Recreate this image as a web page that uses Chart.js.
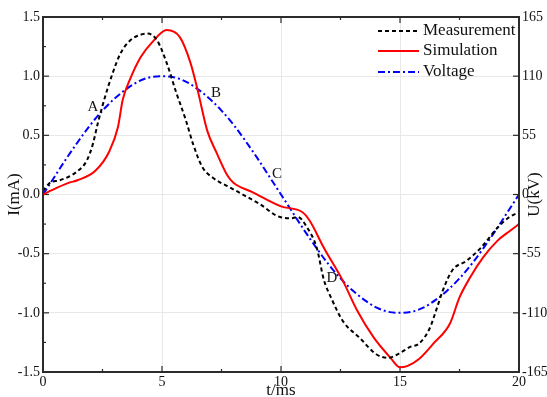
<!DOCTYPE html>
<html>
<head>
<meta charset="utf-8">
<script src="https://cdn.jsdelivr.net/npm/chart.js@4.4.1/dist/chart.umd.min.js"></script>
<style>
  html, body { margin: 0; padding: 0; background: #fff; }
  canvas { display: block; }
</style>
</head>
<body>
<canvas id="myChart" width="547" height="397"></canvas>
<script>
// Measurement current (mA) vs time (ms)
const tMeas = [0, 0.3, 0.7, 1.4, 1.85, 2.1, 2.3, 2.6, 2.9, 3.25, 3.65, 4.1, 4.4, 4.8, 5.2, 5.6, 6.0, 6.3, 6.7, 7.15, 7.85, 8.3, 9.1, 9.95, 10.45, 10.7, 11.1, 11.5, 11.8, 12.1, 12.6, 13.3, 14.0, 14.5, 15.0, 15.4, 15.8, 16.25, 16.55, 16.8, 17.2, 17.8, 18.4, 19.1, 19.6, 20];
const iMeas = [0.03, 0.1, 0.12, 0.19, 0.29, 0.43, 0.6, 0.82, 1.01, 1.19, 1.3, 1.35, 1.36, 1.3, 1.11, 0.86, 0.63, 0.43, 0.23, 0.14, 0.06, 0.01, -0.08, -0.19, -0.2, -0.19, -0.28, -0.45, -0.72, -0.87, -1.07, -1.21, -1.35, -1.38, -1.34, -1.29, -1.26, -1.13, -0.96, -0.81, -0.64, -0.56, -0.45, -0.28, -0.19, -0.15];

// Simulation current (mA)
const tSim = [0, 0.3, 1.1, 1.45, 2.2, 2.8, 3.15, 3.35, 3.65, 4.1, 4.6, 5.2, 5.75, 6.2, 6.5, 6.9, 7.3, 7.75, 8.0, 8.8, 10.0, 10.9, 11.2, 11.8, 12.6, 13.2, 13.9, 14.6, 15.0, 15.3, 15.8, 16.4, 17.1, 17.5, 17.95, 18.5, 19.1, 19.6, 20];
const iSim = [0, 0.03, 0.1, 0.12, 0.2, 0.37, 0.57, 0.8, 0.97, 1.16, 1.29, 1.39, 1.33, 1.11, 0.88, 0.54, 0.35, 0.16, 0.1, 0.02, -0.1, -0.15, -0.22, -0.45, -0.73, -0.98, -1.21, -1.38, -1.46, -1.45, -1.39, -1.26, -1.09, -0.87, -0.7, -0.53, -0.39, -0.31, -0.25];

// Voltage (kV), right axis
const tVolt = [0, 0.5, 1, 1.5, 2, 2.5, 3, 3.5, 4, 4.5, 5, 5.5, 6, 6.5, 7, 7.5, 8, 8.5, 9, 9.5, 10, 10.5, 11, 11.5, 12, 12.5, 13, 13.5, 14, 14.5, 15, 15.5, 16, 16.5, 17, 17.5, 18, 18.5, 19, 19.5, 20];
const uVolt = [0, 17, 34, 50, 65, 78, 89, 98, 105, 109, 110, 109, 105, 98, 89, 78, 65, 50, 34, 17, 0, -17, -34, -50, -65, -78, -89, -98, -105, -109, -110, -109, -105, -98, -89, -78, -65, -50, -34, -17, 0];

// point labels A-D
const markNames = ['A', 'B', 'C', 'D'];
const markT = [2.1, 7.27, 9.83, 12.14];
const markI = [0.74, 0.86, 0.17, -0.71];

const serif = '"Liberation Serif", "Times New Roman", serif';

const toPoints = (xs, ys) => xs.map((x, i) => ({ x: x, y: ys[i] }));

// frame, inward ticks, titles, letters and legend
const decorPlugin = {
  id: 'decor',
  beforeDatasetsDraw(chart) {
    const { ctx, chartArea: a, scales } = chart;
    ctx.save();
    ctx.strokeStyle = '#2b2b2b';
    ctx.lineWidth = 1.2;
    // x ticks on bottom and top
    for (let v = 0; v <= 20; v += 2.5) {
      const px = scales.x.getPixelForValue(v);
      const len = v % 5 === 0 ? 6 : 3;
      ctx.beginPath();
      ctx.moveTo(px, a.bottom); ctx.lineTo(px, a.bottom - len);
      ctx.moveTo(px, a.top); ctx.lineTo(px, a.top + len);
      ctx.stroke();
    }
    // left ticks
    for (let v = -1.5; v <= 1.5; v += 0.25) {
      const py = scales.y.getPixelForValue(v);
      const len = Math.abs(v * 2 - Math.round(v * 2)) < 1e-6 ? 6 : 3;
      ctx.beginPath();
      ctx.moveTo(a.left, py); ctx.lineTo(a.left + len, py);
      ctx.stroke();
    }
    // right ticks
    for (let v = -165; v <= 165; v += 55) {
      const py = scales.y2.getPixelForValue(v);
      ctx.beginPath();
      ctx.moveTo(a.right, py); ctx.lineTo(a.right - 6, py);
      ctx.stroke();
    }
    ctx.restore();
  },
  afterDatasetsDraw(chart) {
    const { ctx, chartArea: a, scales } = chart;
    ctx.save();
    // frame
    ctx.strokeStyle = '#2b2b2b';
    ctx.lineWidth = 2;
    ctx.strokeRect(a.left, a.top, a.right - a.left, a.bottom - a.top);

    // axis titles (right one reads bottom-to-top like the left one)
    ctx.fillStyle = '#111';
    ctx.font = '17px ' + serif;
    ctx.textAlign = 'center';
    ctx.textBaseline = 'middle';
    ctx.fillText('t/ms', (a.left + a.right) / 2, 391);
    ctx.save();
    ctx.translate(535, (a.top + a.bottom) / 2);
    ctx.rotate(-Math.PI / 2);
    ctx.fillText('U(kV)', 0, 0);
    ctx.restore();

    // A, B, C, D
    ctx.font = '15px ' + serif;
    markNames.forEach((n, i) => {
      ctx.fillText(n, scales.x.getPixelForValue(markT[i]), scales.y.getPixelForValue(markI[i]));
    });

    // legend
    ctx.font = '17px ' + serif;
    ctx.textAlign = 'left';
    const rows = [31, 51, 72];
    chart.data.datasets.forEach((ds, i) => {
      const y = rows[i];
      ctx.beginPath();
      ctx.setLineDash(ds.borderDash || []);
      ctx.strokeStyle = ds.borderColor;
      ctx.lineWidth = ds.borderWidth;
      ctx.moveTo(378, y); ctx.lineTo(419, y);
      ctx.stroke();
      ctx.setLineDash([]);
      ctx.fillStyle = '#111';
      ctx.fillText(ds.label, 423, y);
    });
    ctx.restore();
  }
};

const ctx = document.getElementById('myChart').getContext('2d');

new Chart(ctx, {
  type: 'line',
  data: {
    datasets: [
      {
        label: 'Measurement',
        data: toPoints(tMeas, iMeas),
        borderColor: '#000000',
        borderWidth: 2,
        borderDash: [4, 3],
        pointRadius: 0,
        cubicInterpolationMode: 'monotone',
        yAxisID: 'y',
      },
      {
        label: 'Simulation',
        data: toPoints(tSim, iSim),
        borderColor: '#ff0000',
        borderWidth: 2,
        pointRadius: 0,
        cubicInterpolationMode: 'monotone',
        yAxisID: 'y',
      },
      {
        label: 'Voltage',
        data: toPoints(tVolt, uVolt),
        borderColor: '#0000ff',
        borderWidth: 2,
        borderDash: [7, 3, 2, 3],
        pointRadius: 0,
        cubicInterpolationMode: 'monotone',
        yAxisID: 'y2',
      }
    ],
  },
  options: {
    responsive: false,
    animation: false,
    devicePixelRatio: 1,
    layout: { padding: { top: 17, left: 0, right: 0, bottom: 0 } },
    plugins: {
      legend: { display: false },
      tooltip: { enabled: false },
    },
    scales: {
      x: {
        type: 'linear',
        position: 'bottom',
        min: 0,
        max: 20,
        afterFit: (s) => { s.height = 25; },
        grid: { color: '#e8e8e8', lineWidth: 1, drawTicks: false },
        border: { display: false },
        ticks: { stepSize: 5, padding: 2, color: '#111', font: { family: serif, size: 14 } },
      },
      y: {
        position: 'left',
        min: -1.5,
        max: 1.5,
        afterFit: (s) => { s.width = 43; },
        grid: { color: '#e8e8e8', lineWidth: 1, drawTicks: false },
        border: { display: false },
        ticks: {
          stepSize: 0.5, padding: 3, color: '#111', font: { family: serif, size: 14 },
          callback: (v) => v.toFixed(1),
        },
        title: { display: true, text: 'I(mA)', color: '#111', padding: { top: 4, bottom: 0 }, font: { family: serif, size: 17 } },
      },
      y2: {
        position: 'right',
        min: -165,
        max: 165,
        afterFit: (s) => { s.width = 28; },
        grid: { drawOnChartArea: false, drawTicks: false },
        border: { display: false },
        ticks: { stepSize: 55, padding: 3, color: '#111', font: { family: serif, size: 14 } },
      },
    },
  },
  plugins: [decorPlugin],
});
</script>
</body>
</html>
